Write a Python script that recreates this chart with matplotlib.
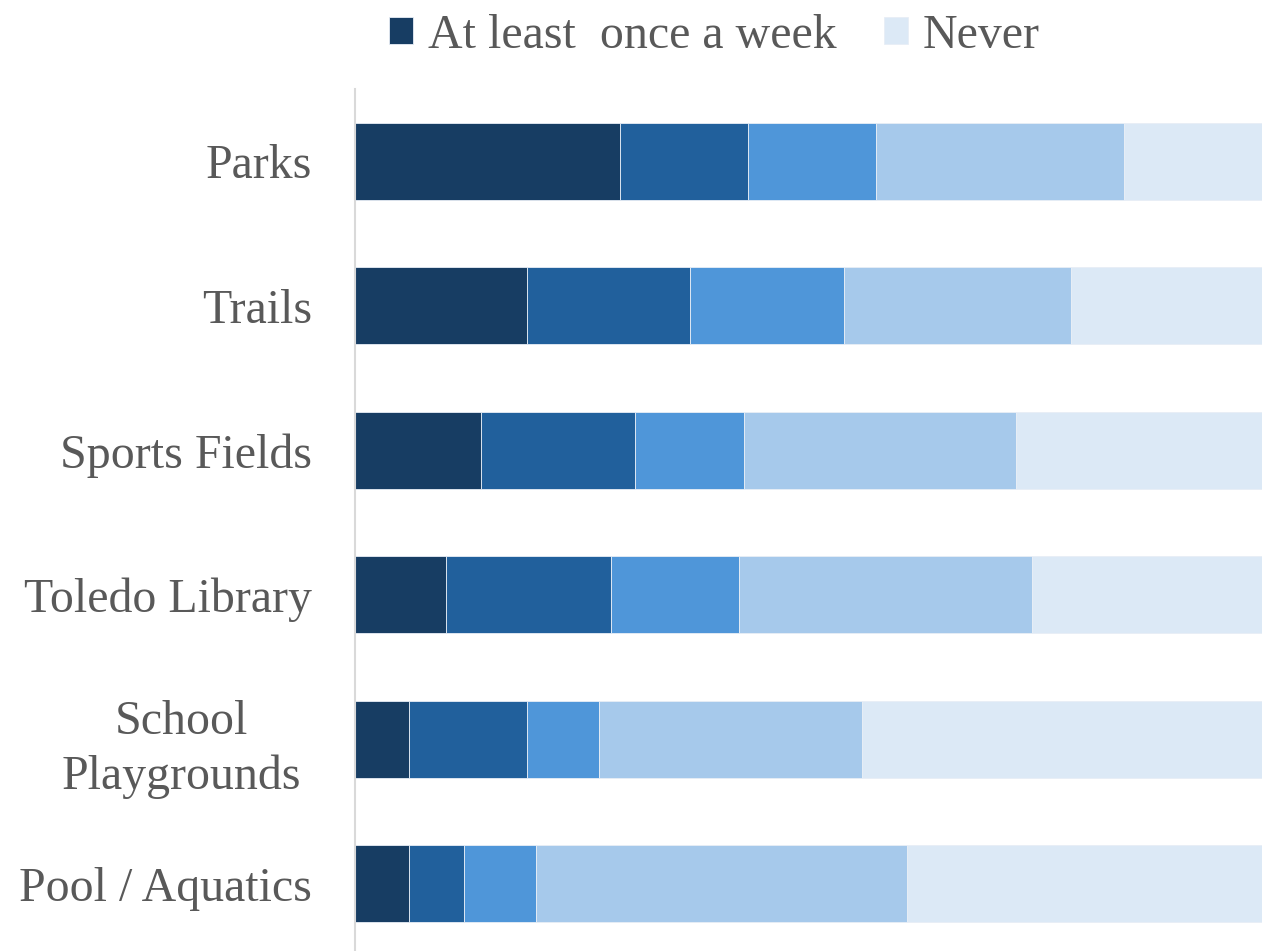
import numpy as np
import matplotlib.pyplot as plt
import matplotlib.transforms as mtransforms

plt.rcParams['font.family'] = ['Liberation Serif', 'DejaVu Serif']

facilities = ["Parks", "Trails", "Sports Fields", "Toledo Library",
              "School\nPlaygrounds", "Pool / Aquatics"]

# share of respondents (%) for each frequency of use, most frequent first
weekly = [29.2, 19.0, 13.9, 10.0, 6.0, 6.0]
monthly = [14.1, 18.0, 17.0, 18.2, 13.0, 6.0]
few_times = [14.1, 17.0, 12.0, 14.1, 7.9, 8.0]
rarely = [27.3, 25.0, 30.0, 32.3, 29.0, 40.9]
never = [15.2, 21.1, 27.1, 25.4, 44.1, 39.1]

series = [weekly, monthly, few_times, rarely, never]
labels = ["At least  once a week", None, None, None, "Never"]
colors = ["#173d63", "#21609c", "#4f96d9", "#a6c9eb", "#dce9f6"]

data = np.array(series, dtype=float)
data = data / data.sum(axis=0) * 100

fig = plt.figure(figsize=(12.69, 9.51), dpi=100)
ax = fig.add_axes([0.2797, -0.0053, 0.7147, 0.9117])

y = np.arange(len(facilities))
left = np.zeros(len(facilities))
handles = []
for vals, lab, col in zip(data, labels, colors):
    bars = ax.barh(y, vals, left=left, height=0.53, color=col,
                   edgecolor="#e8eef6", linewidth=0.6)
    if lab:
        handles.append((bars, lab))
    left += vals

ax.set_xlim(0, 100)
ax.set_ylim(len(facilities) - 0.5, -0.5)
ax.set_yticks(y)
ax.set_yticklabels(facilities, fontsize=34.5, color="#595959",
                   multialignment="center", linespacing=1.3)
ax.tick_params(axis="y", length=0, pad=31)
ax.set_xticks([])
for side in ["top", "right", "bottom"]:
    ax.spines[side].set_visible(False)
ax.spines["left"].set_color("#d9d9d9")
ax.spines["left"].set_linewidth(1.5)

# the wrapped label sits a little further left
for tl in ax.get_yticklabels():
    if "\n" in tl.get_text():
        shift = mtransforms.ScaledTranslation(-11 / 100, 0, fig.dpi_scale_trans)
        tl.set_transform(tl.get_transform() + shift)

fig.legend([h for h, _ in handles], [l for _, l in handles],
           loc="upper center", bbox_to_anchor=(0.563, 1.031), ncol=2,
           frameon=False, fontsize=34.5, labelcolor="#595959",
           handlelength=0.5, handleheight=0.5, handletextpad=0.3,
           columnspacing=1.0)

fig.savefig("out.png", dpi=100)
